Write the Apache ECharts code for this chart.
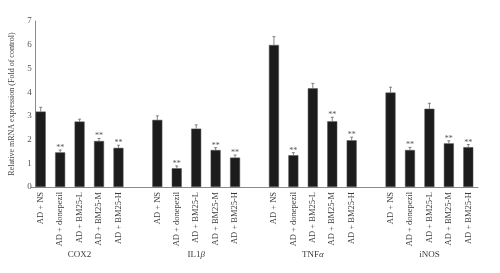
<!DOCTYPE html>
<html><head><meta charset="utf-8">
<script src="https://cdn.jsdelivr.net/npm/echarts@6/dist/echarts.min.js"></script>
<style>html,body{margin:0;padding:0;background:#fff}#c{width:500px;height:273px}</style>
</head><body><div id="c"></div>
<script>
var treatments = ['AD + NS','AD + donepezil','AD + BM25-L','AD + BM25-M','AD + BM25-H'];
var groups = ['COX2','IL1β','TNFα','iNOS'];
var cox2 = [3.18,1.46,2.76,1.94,1.65];
var il1b = [2.83,0.79,2.46,1.56,1.24];
var tnfa = [5.99,1.34,4.16,2.77,1.97];
var inos = [3.98,1.56,3.30,1.84,1.68];
var cox2Err = [0.18,0.10,0.10,0.11,0.11];
var il1bErr = [0.17,0.10,0.16,0.10,0.11];
var tnfaErr = [0.35,0.11,0.21,0.17,0.13];
var inosErr = [0.23,0.11,0.23,0.11,0.11];
var sig = ['','**','','**','**'];
var yTicks = [0,1,2,3,4,5,6,7];

var values = [cox2, il1b, tnfa, inos];
var errs = [cox2Err, il1bErr, tnfaErr, inosErr];
var cats = [], groupLabels = [], barData = [], errData = [];
for (var g = 0; g < groups.length; g++) {
  for (var i = 0; i < treatments.length; i++) {
    var idx = cats.length;
    cats.push(treatments[i]);
    groupLabels.push(i === 2 ? groups[g] : '');
    barData.push(values[g][i]);
    errData.push([idx, values[g][i], errs[g][i], sig[i]]);
  }
  if (g < groups.length - 1) { cats.push(''); groupLabels.push(''); barData.push('-'); }
}
var serif = "'Liberation Serif','DejaVu Serif',serif";
var chart = echarts.init(document.getElementById('c'), null, {renderer:'canvas'});
chart.setOption({
  animation:false,
  grid:{left:31, right:22, top:21, bottom:86},
  xAxis:[{
    type:'category', data:cats,
    axisLine:{lineStyle:{color:'#8a8a8a', width:1}},
    axisTick:{show:false},
    axisLabel:{interval:0, rotate:90, fontSize:8.5, fontFamily:serif, color:'#3a3a3a', margin:5}
  },{
    type:'category', data:groupLabels, position:'bottom', offset:55,
    axisLine:{show:false}, axisTick:{show:false},
    axisLabel:{interval:0, fontSize:9, fontFamily:serif, color:'#3a3a3a',
      formatter:function(v){ return v.replace(/([αβ])/g, '{i|$1}'); },
      rich:{i:{fontStyle:'italic', fontSize:9, fontFamily:serif, color:'#3a3a3a'}}}
  }],
  yAxis:{
    type:'value', min:0, max:7, interval:1, offset:-4.7,
    axisLine:{show:true, lineStyle:{color:'#8a8a8a', width:1}},
    axisTick:{show:false}, splitLine:{show:false},
    axisLabel:{fontSize:9, fontFamily:serif, color:'#555', margin:4,
      formatter:function(v){return yTicks.indexOf(v) >= 0 ? String(v) : '';}},
    name:'Relative mRNA expression (Fold of control)', nameLocation:'middle', nameRotate:90, nameGap:13,
    nameTextStyle:{fontSize:8, fontFamily:serif, color:'#444'}
  },
  series:[{
    type:'bar', data:barData, barWidth:10, xAxisIndex:0,
    itemStyle:{color:'#1c1c1c', borderColor:'#555', borderWidth:0.5}
  },{
    type:'custom', xAxisIndex:0, data:errData, z:5,
    renderItem:function(params, api){
      var x = api.value(0), v = api.value(1), e = api.value(2);
      var s = errData[params.dataIndex][3];
      var p0 = api.coord([x, v]);
      var p1 = api.coord([x, v + e]);
      var children = [
        {type:'line', shape:{x1:p0[0], y1:p0[1], x2:p1[0], y2:p1[1]}, style:{stroke:'#666', lineWidth:0.8}},
        {type:'line', shape:{x1:p1[0]-1.5, y1:p1[1], x2:p1[0]+1.5, y2:p1[1]}, style:{stroke:'#666', lineWidth:0.8}}
      ];
      if (s) children.push({type:'text', style:{text:s, x:p1[0], y:p1[1]+2, textAlign:'center', textVerticalAlign:'bottom', fontSize:8, fontFamily:serif, fill:'#555'}});
      return {type:'group', children:children};
    }
  }]
});
</script></body></html>
